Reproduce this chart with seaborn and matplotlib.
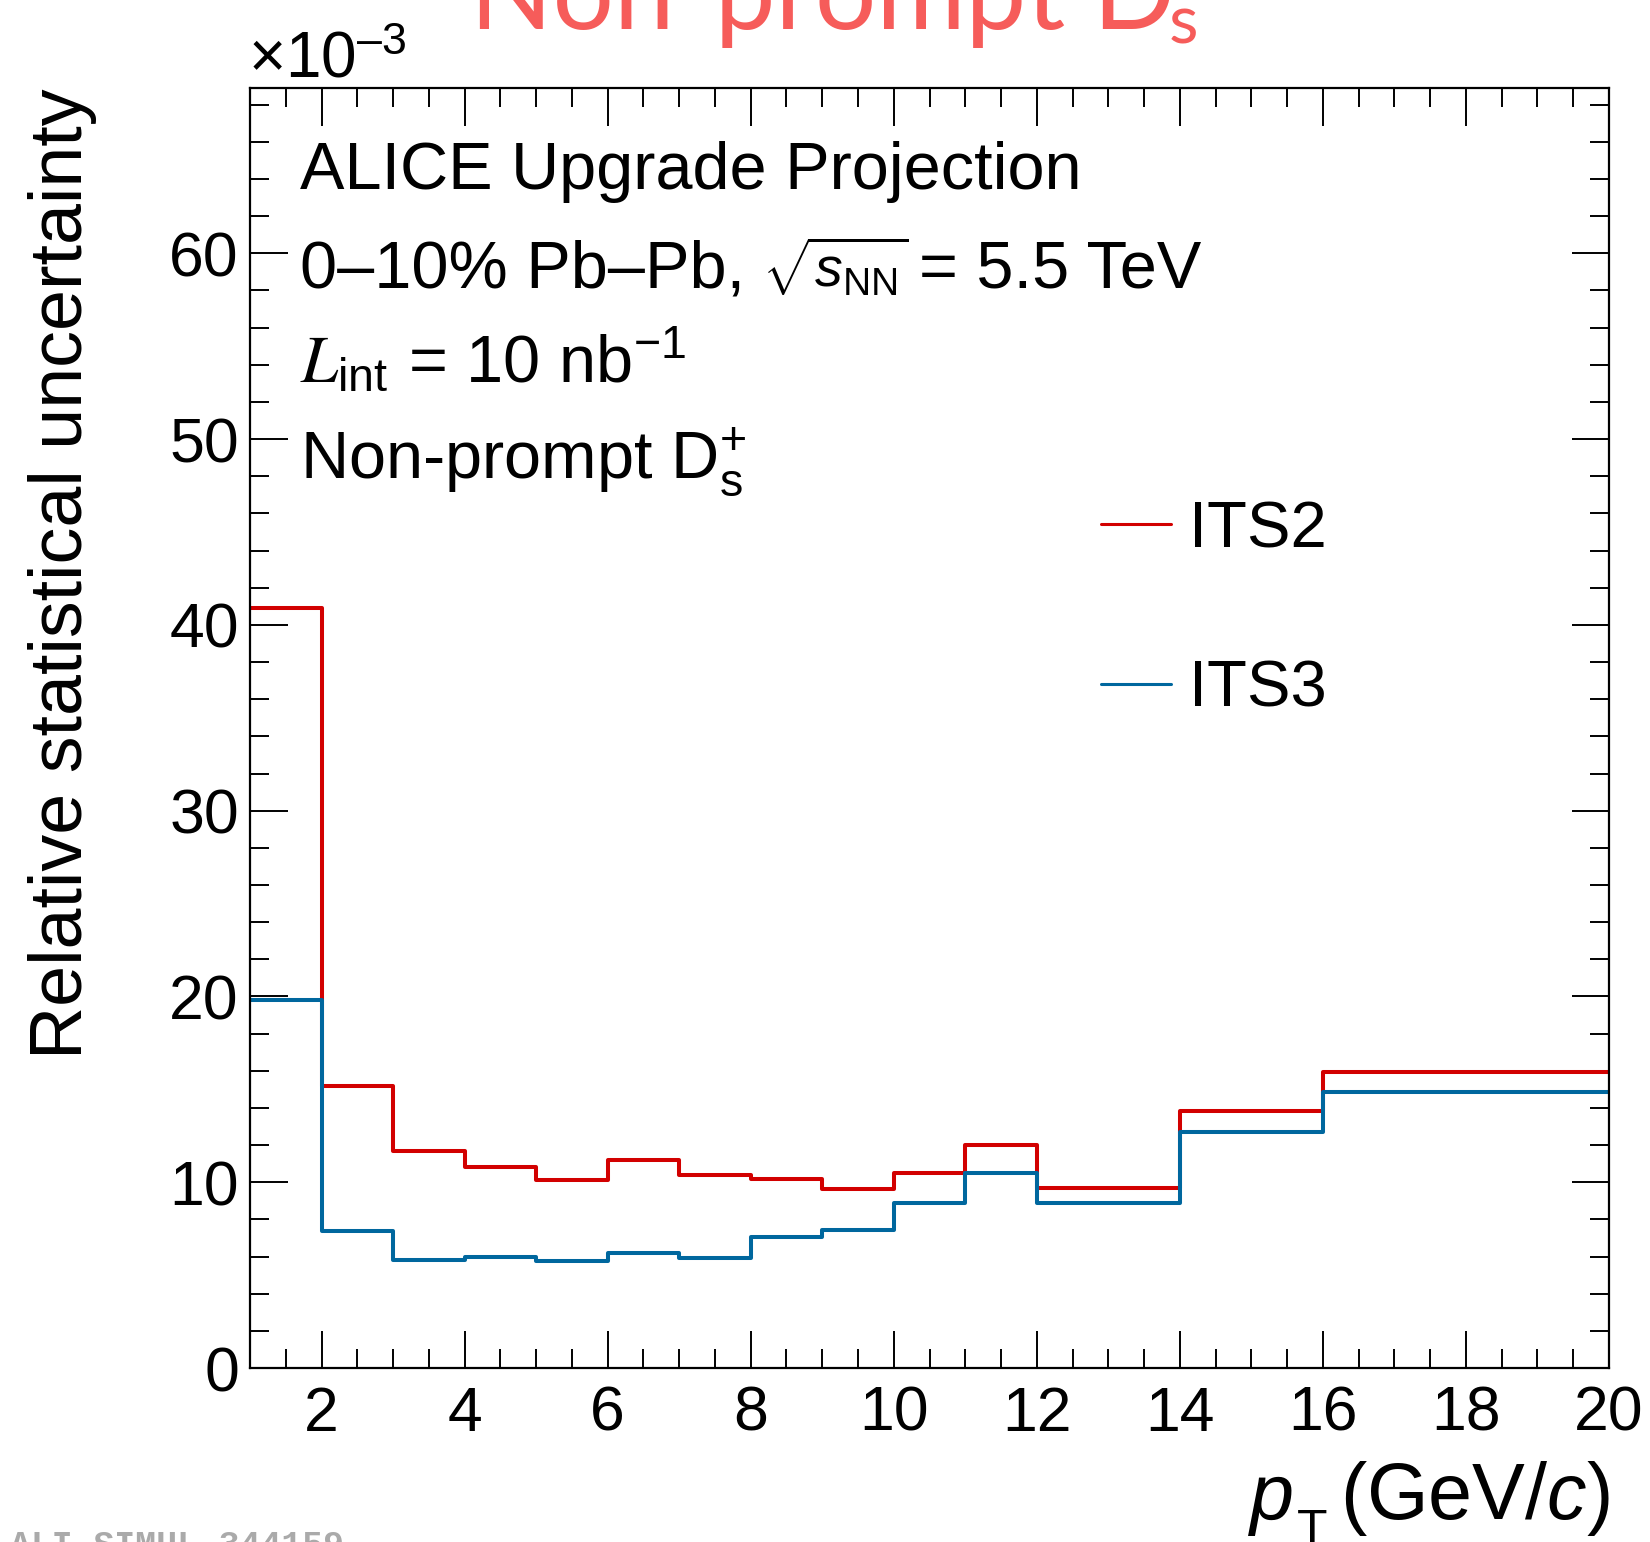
import numpy as np
import pandas as pd
import matplotlib
matplotlib.use("Agg")
import matplotlib.pyplot as plt
from matplotlib.lines import Line2D
from matplotlib.ticker import MultipleLocator, FixedLocator
import seaborn as sns

# ---------------- data ----------------
bin_edges = [1, 2, 3, 4, 5, 6, 7, 8, 9, 10, 11, 12, 14, 16, 20]
its2_values = [40.9, 15.2, 11.7, 10.8, 10.1, 11.2, 10.4, 10.15, 9.65, 10.5, 12.0, 9.7, 13.85, 15.95]
its3_values = [19.8, 7.35, 5.8, 5.95, 5.75, 6.2, 5.9, 7.05, 7.45, 8.9, 10.5, 8.9, 12.7, 14.85]
series_labels = ["ITS2", "ITS3"]
series_colors = ["#D20000", "#00679E"]
x_ticks = [2, 4, 6, 8, 10, 12, 14, 16, 18, 20]
y_ticks = [0, 10, 20, 30, 40, 50, 60]

W, H = 1650, 1542
DPI = 100

sns.set_theme(style="ticks")
plt.rcParams["font.family"] = ["Liberation Sans", "DejaVu Sans"]
plt.rcParams.update({
    "mathtext.fontset": "custom",
    "mathtext.rm": "Liberation Sans",
    "mathtext.it": "Liberation Sans:italic",
    "mathtext.bf": "Liberation Sans:bold",
    "axes.linewidth": 1.6,
    "text.color": "black",
    "axes.edgecolor": "black",
    "xtick.color": "black",
    "ytick.color": "black",
})

fig = plt.figure(figsize=(W / DPI, H / DPI), dpi=DPI)
fig.patch.set_facecolor("white")

def fx(px):
    return px / W

def fy(py):
    return 1 - py / H

ax_left, ax_right, ax_top, ax_bottom = 250, 1609, 88, 1368
ax = fig.add_axes([fx(ax_left), fy(ax_bottom), fx(ax_right - ax_left), (ax_bottom - ax_top) / H])
ax.set_facecolor("white")

edges = np.array(bin_edges, dtype=float)
centers = 0.5 * (edges[:-1] + edges[1:])
df = pd.DataFrame({
    "pt": np.concatenate([centers, centers]),
    "unc": its2_values + its3_values,
    "detector": [series_labels[0]] * len(centers) + [series_labels[1]] * len(centers),
})

for lab, col in zip(series_labels, series_colors):
    sub = df[df["detector"] == lab]
    sns.histplot(data=sub, x="pt", weights="unc", bins=bin_edges, element="step",
                 fill=False, color=col, linewidth=2.9, ax=ax, legend=False)

ax.set_xlim(1, 20)
ax.set_ylim(0, 68.9)
ax.set_xlabel("")
ax.set_ylabel("")
ax.xaxis.set_major_locator(FixedLocator(x_ticks))
ax.xaxis.set_minor_locator(MultipleLocator(0.5))
ax.yaxis.set_major_locator(FixedLocator(y_ticks))
ax.yaxis.set_minor_locator(MultipleLocator(2))
ax.set_xticklabels([str(v) for v in x_ticks])
ax.set_yticklabels([str(v) for v in y_ticks])
for s in ax.spines.values():
    s.set_visible(True)
    s.set_linewidth(1.6)
    s.set_color("black")
ax.tick_params(which="both", direction="in", top=True, right=True, width=1.4, color="black")
ax.tick_params(which="major", length=27)
ax.tick_params(which="minor", length=13.5)
ax.tick_params(axis="x", which="major", labelsize=45, pad=12)
ax.tick_params(axis="y", which="major", labelsize=45, pad=8)

# x axis title (ROOT style: p, low T subscript, units)
fig.text(fx(1250), fy(1519), "p", ha="left", va="baseline", fontsize=57, style="italic")
fig.text(fx(1297), fy(1545), "T", ha="left", va="baseline", fontsize=36)
fig.text(fx(1610), fy(1519), r"(GeV/$c$)", ha="right", va="baseline", fontsize=57)

# y axis title
fig.text(fx(97), fy(88), "Relative statistical uncertainty", rotation=90,
         ha="right", va="top", fontsize=53)

# exponent label
fig.text(fx(248), fy(77), r"$\times$10$^{\mathregular{–3}}$", ha="left", va="baseline", fontsize=46)

# annotation block
fs_txt = 48
fig.text(fx(300), fy(189), "ALICE Upgrade Projection", ha="left", va="baseline", fontsize=fs_txt)
fig.text(fx(300), fy(288), "0–10% Pb–Pb,", ha="left", va="baseline", fontsize=fs_txt)
fig.text(fx(762), fy(287), r"$\sqrt{s_{\mathregular{NN}}}$", ha="left", va="baseline", fontsize=40)
fig.text(fx(919), fy(288), "= 5.5 TeV", ha="left", va="baseline", fontsize=fs_txt)
fig.text(fx(300), fy(382), r"$L_{\mathregular{int}}$ = 10 nb$^{\mathregular{-1}}$",
         ha="left", va="baseline", fontsize=fs_txt, math_fontfamily="stix")
fig.text(fx(300), fy(478), r"Non-prompt D$_{\mathregular{s}}^{\mathregular{+}}$",
         ha="left", va="baseline", fontsize=fs_txt)

# legend
handles = [Line2D([], [], color=c, lw=2.2) for c in series_colors]
ax.legend(handles, series_labels, loc="upper left", bbox_to_anchor=(fx(1101), fy(500)),
          bbox_transform=fig.transFigure, frameon=False, fontsize=47, handlelength=1.07,
          handletextpad=0.28, labelspacing=1.53, borderpad=0, borderaxespad=0)

# page title (cut at the top edge)
title_color = "#F65C5A"
fig.text(fx(470), fy(29), "Non-prompt D", ha="left", va="baseline",
         fontsize=78, color=title_color, family=["Lato", "DejaVu Sans"])
fig.text(fx(1169), fy(43), "s", ha="left", va="baseline",
         fontsize=49, color=title_color, family=["Lato", "DejaVu Sans"])

# watermark
fig.text(fx(10), fy(1529), "ALI-SIMUL-344159", ha="left", va="top", fontsize=25,
         color="#AAAAAA", family=["Liberation Mono", "DejaVu Sans Mono"], fontweight="bold")

fig.savefig("out.png", dpi=DPI, facecolor="white")
